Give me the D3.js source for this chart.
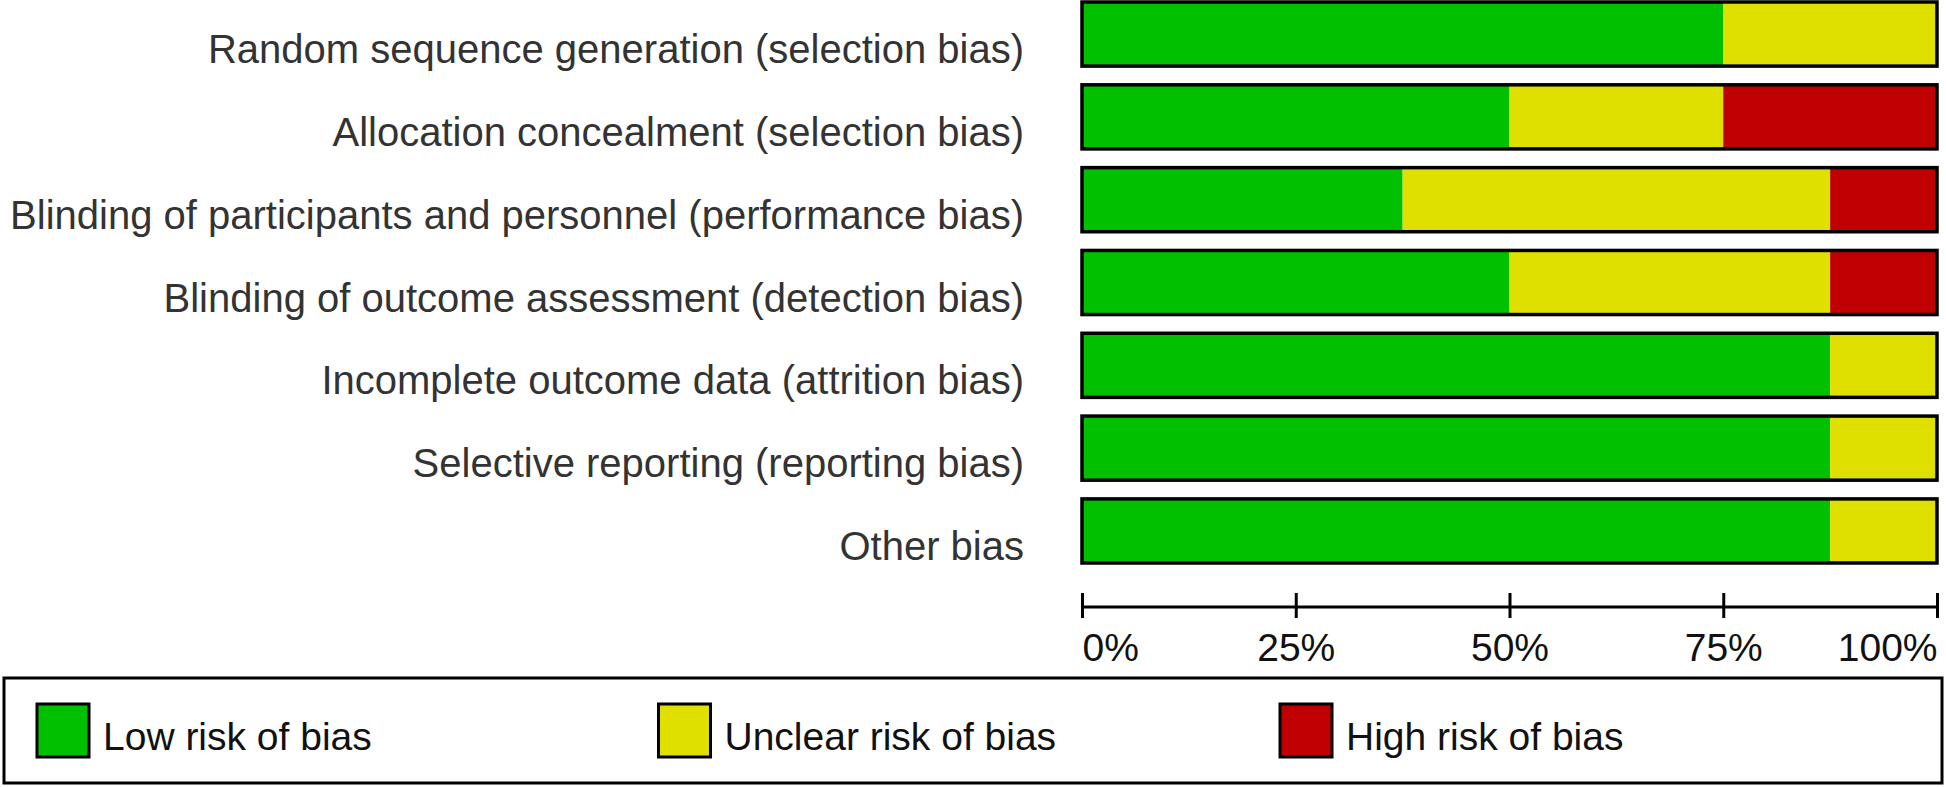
<!DOCTYPE html>
<html>
<head>
<meta charset="utf-8">
<script src="https://cdn.jsdelivr.net/npm/d3@7"></script>
<style>
  html, body { margin: 0; padding: 0; background: #fff; }
  svg { display: block; font-family: "Liberation Sans", Arial, sans-serif; }
</style>
</head>
<body>
<svg id="chart" width="1946" height="787"></svg>
<script>
const categories = [
  "Random sequence generation (selection bias)",
  "Allocation concealment (selection bias)",
  "Blinding of participants and personnel (performance bias)",
  "Blinding of outcome assessment (detection bias)",
  "Incomplete outcome data (attrition bias)",
  "Selective reporting (reporting bias)",
  "Other bias"
];
const lowRisk     = [75, 50, 37.5, 50, 87.5, 87.5, 87.5];
const unclearRisk = [25, 25, 50, 37.5, 12.5, 12.5, 12.5];
const highRisk    = [0, 25, 12.5, 12.5, 0, 0, 0];
const seriesKeys   = ["low", "unclear", "high"];
const seriesNames  = ["Low risk of bias", "Unclear risk of bias", "High risk of bias"];
const seriesColors = ["#00c000", "#e0e000", "#c00000"];
const tickValues = [0, 25, 50, 75, 100];
const tickLabels = ["0%", "25%", "50%", "75%", "100%"];

const rows = categories.map((c, i) => ({cat: c, low: lowRisk[i], unclear: unclearRisk[i], high: highRisk[i]}));

const svg = d3.select("#chart");
const x = d3.scaleLinear().domain([0, 100]).range([1082, 1937]);
const y = d3.scaleBand().domain(categories).range([2, 563]).paddingInner(0.226).paddingOuter(0);
const color = d3.scaleOrdinal().domain(seriesKeys).range(seriesColors);

const stacked = d3.stack().keys(seriesKeys)(rows);

// bar segments
svg.append("g").selectAll("g").data(stacked).join("g")
  .attr("fill", d => color(d.key))
  .selectAll("rect").data(d => d).join("rect")
  .attr("x", d => x(d[0]))
  .attr("y", d => y(d.data.cat))
  .attr("width", d => x(d[1]) - x(d[0]))
  .attr("height", y.bandwidth());

// outlines
svg.append("g").selectAll("rect").data(rows).join("rect")
  .attr("x", x(0))
  .attr("y", d => y(d.cat))
  .attr("width", x(100) - x(0))
  .attr("height", y.bandwidth())
  .attr("fill", "none")
  .attr("stroke", "#000")
  .attr("stroke-width", 3.5);

// category labels
svg.append("g").selectAll("text").data(categories).join("text")
  .attr("x", 1024)
  .attr("y", d => y(d) + y.bandwidth() - 3)
  .attr("text-anchor", "end")
  .attr("font-size", 40)
  .attr("fill", "#333")
  .text(d => d);

// axis
const axisY = 607;
const axis = d3.axisBottom(x)
  .tickValues(tickValues)
  .tickFormat((d, i) => tickLabels[i])
  .tickSizeInner(25)
  .tickSizeOuter(0)
  .tickPadding(15);
const ag = svg.append("g").attr("transform", `translate(0,${axisY - 14})`).call(axis);
ag.select(".domain").remove();
ag.selectAll(".tick line").attr("stroke", "#000").attr("stroke-width", 3);
ag.selectAll(".tick text")
  .attr("font-size", 39)
  .attr("font-family", "Liberation Sans, Arial, sans-serif")
  .attr("fill", "#111")
  .attr("text-anchor", (d, i) => i === 0 ? "start" : (i === tickValues.length - 1 ? "end" : "middle"));
svg.append("line")
  .attr("x1", x(0)).attr("x2", x(100))
  .attr("y1", axisY).attr("y2", axisY)
  .attr("stroke", "#000").attr("stroke-width", 3);

// legend
const legend = svg.append("g");
legend.append("rect")
  .attr("x", 4).attr("y", 678).attr("width", 1938).attr("height", 105)
  .attr("fill", "#fff").attr("stroke", "#000").attr("stroke-width", 3);
const items = legend.selectAll("g.item").data(seriesKeys).join("g")
  .attr("class", "item")
  .attr("transform", (d, i) => `translate(${37 + i * 621.5},704)`);
items.append("rect")
  .attr("width", 52).attr("height", 53)
  .attr("fill", d => color(d))
  .attr("stroke", "#000").attr("stroke-width", 3);
items.append("text")
  .attr("x", 66).attr("y", 46)
  .attr("font-size", 39)
  .attr("fill", "#111")
  .text((d, i) => seriesNames[i]);
</script>
</body>
</html>
